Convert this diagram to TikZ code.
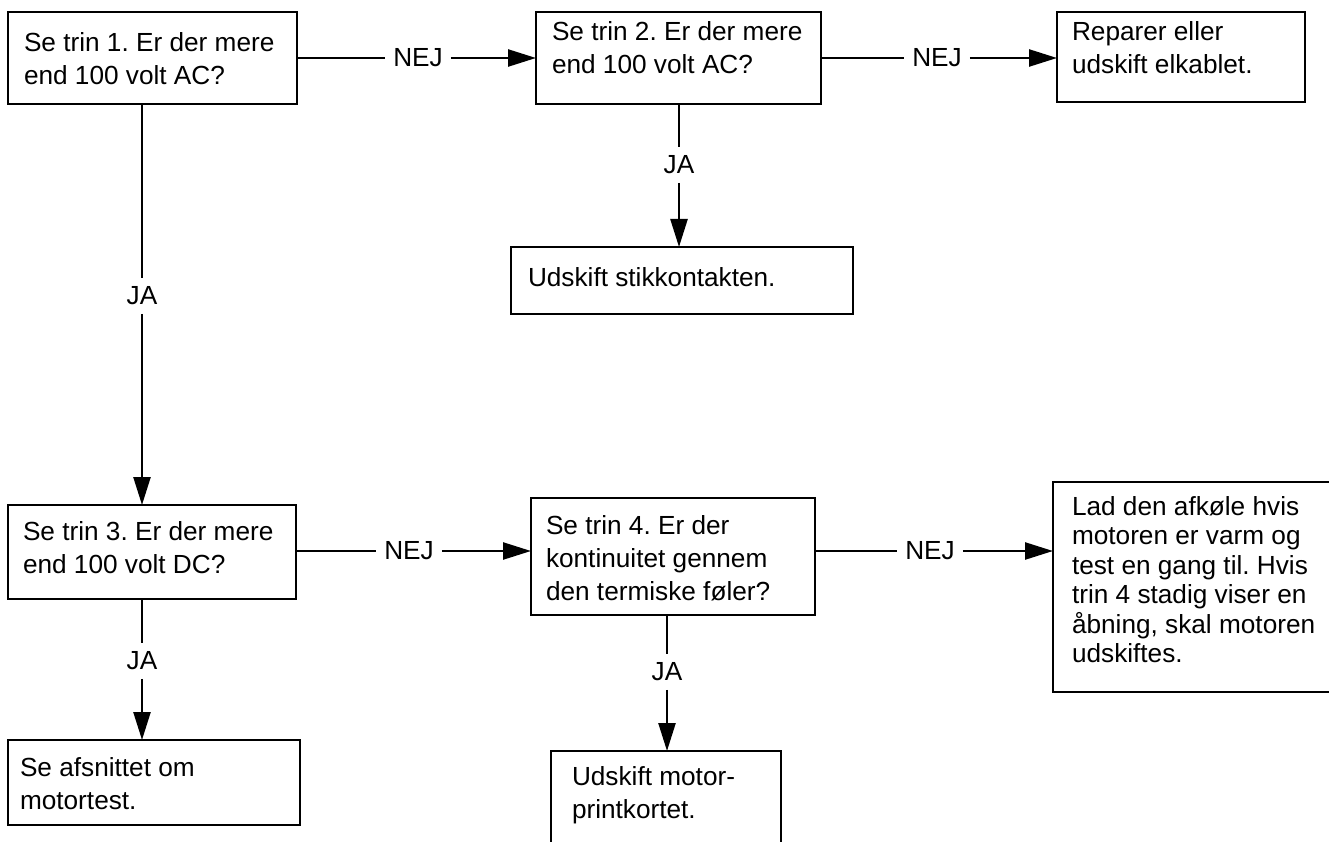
\documentclass[tikz,border=0pt]{standalone}
\usepackage{fontspec}
\setmainfont{Liberation Sans}
\usetikzlibrary{arrows.meta}
\frenchspacing

% Left-aligned block of lines placed at an offset from the node centre:
% #1 = horizontal offset of the left edge, #2 = lift of the first baseline, #3 = lines
\newcommand{\boxtext}[3]{%
  \makebox[0pt][l]{\hspace*{#1}\raisebox{#2}[0pt][0pt]{%
    \begin{tabular}[t]{@{}l@{}}#3\end{tabular}}}}

\begin{document}
\begin{tikzpicture}[x=1pt, y=-1pt,
  every node/.style={font=\fontsize{26.2}{33}\selectfont},
  box/.style={draw, line width=2.4pt, inner sep=0pt, outer sep=0pt},
  answer/.style={inner xsep=8pt, inner ysep=8.5pt},
  link/.style={line width=2.4pt},
  arrow/.style={link, -{Triangle[length=28pt, width=17pt]}},
]
\useasboundingbox (0,0) rectangle (1329,842);
\clip (0,0) rectangle (1329,842);

% --- boxes -------------------------------------------------------------
\node[box, minimum width=289pt, minimum height=92pt] (A) at (152.5,58)
  {\boxtext{-128.5pt}{6pt}{Se trin 1. Er der mere\\end 100 volt AC?}};
\node[box, minimum width=285pt, minimum height=92pt] (B) at (678.5,58)
  {\boxtext{-126.5pt}{17pt}{Se trin 2. Er der mere\\end 100 volt AC?}};
\node[box, minimum width=248pt, minimum height=90pt] (C) at (1181,57)
  {\boxtext{-109pt}{16pt}{Reparer eller\\udskift elkablet.}};
\node[box, minimum width=342pt, minimum height=67pt] (D) at (682,280.5)
  {\boxtext{-154pt}{-5.5pt}{Udskift stikkontakten.}};
\node[box, minimum width=288pt, minimum height=94pt] (E) at (152,552)
  {\boxtext{-129pt}{12pt}{Se trin 3. Er der mere\\end 100 volt DC?}};
\node[box, minimum width=284pt, minimum height=117pt] (F) at (673,556.5)
  {\boxtext{-127pt}{22.5pt}{Se trin 4. Er der\\kontinuitet gennem\\den termiske føler?}};
% this box runs on past the right edge of the page
\node[box, minimum width=287pt, minimum height=210pt,
      font=\fontsize{26.2}{29.5}\selectfont] (G) at (1196.5,587)
  {\boxtext{-124.5pt}{72pt}{Lad den afkøle hvis\\motoren er varm og\\test en gang til. Hvis\\trin 4 stadig viser en\\åbning, skal motoren\\udskiftes.}};
\node[box, minimum width=292pt, minimum height=85pt] (H) at (154,782.5)
  {\boxtext{-134pt}{6.5pt}{Se afsnittet om\\motortest.}};
% this box runs on past the lower edge of the page
\node[box, minimum width=230pt, minimum height=149pt] (I) at (666,825.5)
  {\boxtext{-94pt}{40.5pt}{Udskift motor-\\printkortet.}};

% --- answers -----------------------------------------------------------
\node[answer] (n1) at (418,58) {NEJ};
\node[answer] (n2) at (937,58) {NEJ};
\node[answer] (n3) at (409,551) {NEJ};
\node[answer] (n4) at (930,551) {NEJ};
\node[answer] (j1) at (679,165) {JA};
\node[answer] (j2) at (142,296) {JA};
\node[answer] (j3) at (142,661) {JA};
\node[answer] (j4) at (667,672) {JA};

% --- connectors --------------------------------------------------------
\draw[link]  (n1 -| A.east) -- (n1);
\draw[arrow] (n1) -- (n1 -| B.west);
\draw[link]  (n2 -| B.east) -- (n2);
\draw[arrow] (n2) -- (n2 -| C.west);
\draw[link]  (j1 |- B.south) -- (j1);
\draw[arrow] (j1) -- (j1 |- D.north);
\draw[link]  (j2 |- A.south) -- (j2);
\draw[arrow] (j2) -- (j2 |- E.north);
\draw[link]  (n3 -| E.east) -- (n3);
\draw[arrow] (n3) -- (n3 -| F.west);
\draw[link]  (n4 -| F.east) -- (n4);
\draw[arrow] (n4) -- (n4 -| G.west);
\draw[link]  (j3 |- E.south) -- (j3);
\draw[arrow] (j3) -- (j3 |- H.north);
\draw[link]  (j4 |- F.south) -- (j4);
\draw[arrow] (j4) -- (j4 |- I.north);
\end{tikzpicture}
\end{document}
